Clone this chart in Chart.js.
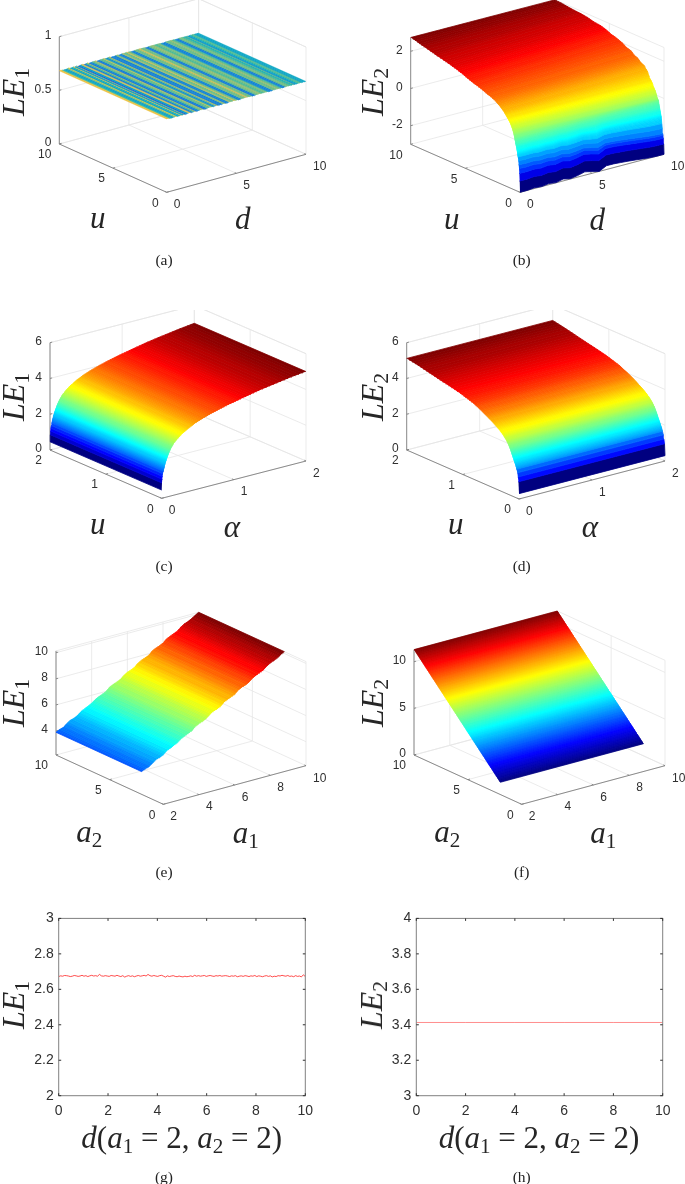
<!DOCTYPE html>
<html>
<head>
<meta charset="utf-8">
<script src="https://cdn.jsdelivr.net/npm/chart.js@4/dist/chart.umd.js"></script>
<style>
  html, body { margin: 0; background: #fff; }
  #page { position: relative; width: 685px; height: 1184px; overflow: hidden; }
  canvas { position: absolute; }
  .lbl { position: absolute; transform: translate(-50%, -50%); white-space: nowrap; color: #262626;
         font-family: "Liberation Serif", serif; font-size: 31px; line-height: 1; }
  .lbl.rot { transform: translate(-50%, -50%) rotate(-90deg); font-size: 32px; }
  .lbl.cap { font-size: 15.5px; color: #222; }
  .lbl i { font-style: italic; }
  .lbl span { font-size: 0.68em; position: relative; top: 0.25em; }
</style>
</head>
<body>
<div id="page"></div>
<script>
// (a) LE1 over d, one value per stripe
const leA = [.6828,.6828,.6800,.6788,.6784,.6808,.6836,.6784,.6792,.6828,.6784,.6816,.6764,.6784,.6824,.6820,.6772,.6800,.6828,.6772,.6776,.6804,.6808,.6824,.6772,.6772,.6804,.6804,.6824,.6800,.6776,.6804,.6824,.6772,.6776,.6772,.6808,.6812,.6772,.6776,.6816,.6808,.6804,.6824,.6808,.6804,.6772,.6776,.6808,.6804,.6812,.6824,.6808,.6804,.6808,.6772,.6772,.6804,.6808,.6812,.6808,.6800,.6804,.6808,.6804,.6780,.6772,.6776,.6808,.6804,.6808,.6812,.6804,.6800,.6776,.6772,.6804,.6808,.6804,.6800,.6792,.6804,.6780,.6788,.6800,.6804,.6792,.6784,.6788,.6784];

// (b) LE2 over u, along the d = 0 and d = 10 edges, with the ripple along d near u = 0
const uB = [0,.03,.06,.09,.12,.16,.2,.25,.3,.36,.43,.5,.6,.7,.8,.95,1.1,1.3,1.5,1.8,2.1,2.4,2.7,3,3.4,3.8,4.3,4.8,5.3,5.8,6.4,7,7.6,8.2,8.8,9.4,10];
const leB0 = [-3,-2.4,-2,-1.75,-1.55,-1.35,-1.15,-.97,-.8,-.63,-.45,-.25,.02,.2,.35,.52,.65,.8,.95,1.12,1.25,1.36,1.44,1.5,1.6,1.68,1.77,1.88,2,2.1,2.2,2.29,2.37,2.47,2.55,2.65,2.74];
const leB10 = [-3,-2.45,-2.15,-2,-1.91,-1.65,-1.4,-1.05,-.9,-.72,-.5,-.25,-.15,.05,.22,.38,.6,.75,1.05,1.3,1.38,1.55,1.62,1.78,1.85,2,2.12,2.2,2.33,2.42,2.46,2.55,2.6,2.62,2.66,2.7,2.72];
const dB = [0,.5,1,1.5,2,2.5,3,3.5,4,4.5,5,5.5,6,6.5,7,7.5,8,8.5,9,9.5,10];
const rippleB = [0,0,.04,0,.06,.01,.1,.02,.08,.18,.1,0,.2,.2,.17,.14,.1,.06,.02,0,0];
const rippleFadeB = [1,1,1,.9,.8,.7,.6,.5,.4,.3,.2,.1];

// (c) LE1 over alpha
const alphaC = [0,.004,.008,.012,.018,.025,.035,.05,.07,.1,.13,.17,.22,.28,.37,.46,.57,.69,.8,.93,1.06,1.2,1.35,1.5,1.65,1.8,1.9,2];
const leC = [.46,.85,1.05,1.2,1.35,1.48,1.65,1.88,2.12,2.42,2.66,2.9,3.1,3.3,3.52,3.7,3.87,4.02,4.14,4.27,4.38,4.5,4.62,4.72,4.81,4.9,4.95,5];

// (d) LE2 over u
const uD = [0,.01,.02,.03,.045,.06,.08,.1,.12,.15,.19,.23,.28,.34,.4,.48,.56,.65,.73,.81,.92,1.05,1.2,1.41,1.6,1.8,2];
const leD = [.3,.95,1.2,1.42,1.6,1.78,1.93,2.1,2.25,2.5,2.78,2.98,3.17,3.35,3.49,3.66,3.82,3.98,4.1,4.23,4.34,4.47,4.58,4.72,4.86,5,5.12];

// (e) LE1 over a1
const a1E = [2,2.2,2.4,2.6,2.8,3,3.2,3.4,3.6,3.8,4,4.2,4.4,4.6,4.8,5,5.2,5.4,5.6,5.8,6,6.2,6.4,6.6,6.8,7,7.2,7.4,7.6,7.8,8,8.2,8.4,8.6,8.8,9,9.2,9.4,9.6,9.8,10];
const leE = [3.9,4.04,4.12,4.33,4.52,4.6,4.74,4.98,5.1,5.24,5.38,5.6,5.74,5.86,5.98,6.24,6.38,6.48,6.62,6.85,7.02,7.12,7.25,7.5,7.65,7.76,7.88,8.14,8.28,8.38,8.52,8.76,8.9,9.02,9.14,9.38,9.55,9.66,9.8,9.98,10.14];

// (f) LE2 over a2
const a2F = [2,2.2,2.4,2.6,2.8,3,3.2,3.4,3.6,3.8,4,4.2,4.4,4.6,4.8,5,5.2,5.4,5.6,5.8,6,6.2,6.4,6.6,6.8,7,7.2,7.4,7.6,7.8,8,8.2,8.4,8.6,8.8,9,9.2,9.4,9.6,9.8,10];
const leF = [1.3,1.55,1.8,2.05,2.3,2.55,2.8,3.05,3.3,3.55,3.8,4.05,4.3,4.55,4.8,5.05,5.3,5.55,5.8,6.05,6.3,6.55,6.8,7.05,7.3,7.55,7.8,8.05,8.3,8.55,8.8,9.05,9.3,9.55,9.8,10.05,10.3,10.55,10.8,11.05,11.3];

// (g), (h) line plots
const leG = [2.672,2.676,2.674,2.678,2.677,2.675,2.672,2.674,2.678,2.676,2.673,2.675,2.679,2.674,2.677,2.672,2.676,2.679,2.675,2.677,2.674,2.684,2.676,2.674,2.677,2.675,2.673,2.678,2.676,2.674,2.679,2.675,2.672,2.677,2.669,2.674,2.677,2.673,2.676,2.671,2.675,2.678,2.674,2.676,2.679,2.675,2.684,2.677,2.674,2.678,2.675,2.673,2.677,2.679,2.674,2.669,2.676,2.672,2.675,2.677,2.673,2.671,2.675,2.672,2.670,2.674,2.671,2.673,2.676,2.672,2.679,2.674,2.677,2.674,2.676,2.678,2.673,2.676,2.678,2.675,2.673,2.677,2.675,2.678,2.674,2.676,2.677,2.675,2.672,2.676,2.674,2.677,2.671,2.674,2.676,2.673,2.677,2.675,2.672,2.676,2.674,2.678,2.672,2.676,2.674,2.671,2.675,2.677,2.673,2.676,2.670,2.674,2.672,2.677,2.675,2.679,2.676,2.674,2.678,2.673,2.675,2.671,2.677,2.673,2.675,2.670,2.682,2.672];
const dH = [0,2,4,6,8,10];
const leH = [3.413,3.413,3.413,3.413,3.413,3.413];

// tick labels
const ticksTen = [0,5,10];
const ticksTwo = [0,1,2];
const ticksA1 = [2,4,6,8,10];
const zTicksA = [0,.5,1];
const zTicksB = [-2,0,2];
const zTicksCD = [0,2,4,6];
const zTicksE = [4,6,8,10];
const zTicksF = [0,5,10];
const xTicks2d = [0,2,4,6,8,10];
const yTicksG = [2,2.2,2.4,2.6,2.8,3];
const yTicksH = [3,3.2,3.4,3.6,3.8,4];

const GRID = '#e6e6e6';
const AXIS = '#808080';
const INK = '#303030';
const TICK_FONT = '"Liberation Sans", sans-serif';

const clamp01 = v => Math.max(0, Math.min(1, v));
const toRgb = c => `rgb(${c.map(v => Math.round(v * 255)).join(',')})`;

function jet(t, levels) {
  const q = Math.min(levels - 1, Math.floor(clamp01(t) * levels)) / (levels - 1);
  return toRgb([
    clamp01(1.5 - Math.abs(4 * q - 3)),
    clamp01(1.5 - Math.abs(4 * q - 2)),
    clamp01(1.5 - Math.abs(4 * q - 1))
  ]);
}

const PARULA = [[.208,.165,.529],[.059,.361,.867],[.078,.506,.839],[.024,.643,.792],[.18,.718,.643],[.529,.749,.467],[.82,.733,.349],[.996,.784,.196],[.976,.984,.055]];
function parula(t) {
  const p = clamp01(t) * (PARULA.length - 1);
  const i = Math.min(PARULA.length - 2, Math.floor(p));
  return toRgb(PARULA[i].map((v, k) => v + (PARULA[i + 1][k] - v) * (p - i)));
}

// orthographic view of a MATLAB style box, anchored on its page position
function project(box, x, y, z) {
  const tx = (x - box.xlim[0]) / (box.xlim[1] - box.xlim[0]);
  const ty = (y - box.ylim[0]) / (box.ylim[1] - box.ylim[0]);
  const tz = (z - box.zlim[0]) / (box.zlim[1] - box.zlim[0]);
  return {
    x: box.o[0] + tx * (box.xEnd[0] - box.o[0]) + ty * (box.yEnd[0] - box.o[0]),
    y: box.o[1] + tx * (box.xEnd[1] - box.o[1]) + ty * (box.yEnd[1] - box.o[1]) - tz * box.zSpan
  };
}

function lineDs(data, color, width) {
  return { data, showLine: true, pointRadius: 0, borderColor: color, borderWidth: width, fill: false, tension: 0 };
}

function polyDs(data, color, width) {
  return { data, showLine: true, pointRadius: 0, borderColor: color, backgroundColor: color, borderWidth: width, fill: 'shape', tension: 0 };
}

function frameBack(box) {
  const out = [];
  const [x0, x1] = box.xlim, [y0, y1] = box.ylim, [z0, z1] = box.zlim;
  const seg = (a, b) => out.push(lineDs([project(box, ...a), project(box, ...b)], GRID, 0.8));
  box.xTicks.forEach(x => { seg([x, y0, z0], [x, y1, z0]); seg([x, y1, z0], [x, y1, z1]); });
  box.yTicks.forEach(y => { seg([x0, y, z0], [x1, y, z0]); seg([x1, y, z0], [x1, y, z1]); });
  box.zTicks.concat([z1]).forEach(z => { seg([x0, y1, z], [x1, y1, z]); seg([x1, y1, z], [x1, y0, z]); });
  return out;
}

function frameAxes(box) {
  const out = [];
  const [x0, x1] = box.xlim, [y0, y1] = box.ylim, [z0, z1] = box.zlim;
  const seg = (a, b) => out.push(lineDs([project(box, ...a), project(box, ...b)], AXIS, 0.9));
  seg([x0, y0, z0], [x1, y0, z0]);
  seg([x0, y0, z0], [x0, y1, z0]);
  seg([x0, y1, z0], [x0, y1, z1]);
  const dx = (x1 - x0) * 0.015, dy = (y1 - y0) * 0.015;
  box.xTicks.forEach(x => seg([x, y0, z0], [x, y0 + dy, z0]));
  box.yTicks.forEach(y => seg([x0, y, z0], [x0 + dx, y, z0]));
  box.zTicks.forEach(z => seg([x0, y1, z], [x0 + dx, y1, z]));
  return out;
}

// strips between neighbouring profile rows; above s.bandBelow a strip is split so the colours run smoothly
function strips(box, s) {
  const out = [];
  const point = (p, a, z) => (s.axis === 'x' ? project(box, p, a, z) : project(box, a, p, z));
  const along = s.along;
  const row = (i) => along.map((a, j) => {
    const f = (a - along[0]) / (along[along.length - 1] - along[0]);
    const ripple = s.ripple ? s.ripple[j] * (s.fade[i] || 0) : 0;
    return point(s.profile[i], a, s.z0[i] + (s.z1[i] - s.z0[i]) * f + ripple);
  });
  const norm = z => (z - s.clim[0]) / (s.clim[1] - s.clim[0]);
  const mix = (a, b, f) => a.map((p, j) => ({ x: p.x + (b[j].x - p.x) * f, y: p.y + (b[j].y - p.y) * f }));
  for (let i = 0; i < s.profile.length - 1; i++) {
    const t0 = norm(s.z0[i]), t1 = norm(s.z0[i + 1]);
    const lo = row(i), hi = row(i + 1);
    const parts = t0 < s.bandBelow ? 1 : Math.min(10, Math.max(1, Math.ceil((t1 - t0) * 128)));
    for (let k = 0; k < parts; k++) {
      const poly = mix(lo, hi, k / parts).concat(mix(lo, hi, (k + 1) / parts).reverse());
      out.push(polyDs(poly, s.map(t0 + (t1 - t0) * k / parts), s.seam));
    }
  }
  return out;
}

const labelPlugin = {
  id: 'boxLabels',
  afterDraw(chart, args, opts) {
    const box = opts.box;
    if (!box) return;
    const { ctx, scales } = chart;
    const put = (p, text, dx, dy, align) => {
      ctx.textAlign = align;
      ctx.fillText(text, scales.x.getPixelForValue(p.x) + dx, scales.y.getPixelForValue(p.y) + dy);
    };
    ctx.save();
    ctx.font = `12px ${TICK_FONT}`;
    ctx.fillStyle = INK;
    ctx.textBaseline = 'middle';
    box.xTicks.forEach(x => put(project(box, x, box.ylim[0], box.zlim[0]), String(x), 7, 12.5, 'left'));
    box.yTicks.forEach(y => put(project(box, box.xlim[0], y, box.zlim[0]), String(y), -8, 11, 'right'));
    box.zTicks.forEach(z => put(project(box, box.xlim[0], box.ylim[1], z), String(z), -8, -1, 'right'));
    ctx.restore();
  }
};

const framePlugin = {
  id: 'insideTicks',
  afterDraw(chart) {
    if (chart.options.plugins.boxLabels.box) return;
    const { ctx, chartArea: a, scales } = chart;
    ctx.save();
    ctx.strokeStyle = AXIS;
    ctx.lineWidth = 1;
    ctx.strokeRect(a.left, a.top, a.right - a.left, a.bottom - a.top);
    ctx.strokeStyle = INK;
    ctx.beginPath();
    scales.x.ticks.forEach(t => {
      const px = scales.x.getPixelForValue(t.value);
      ctx.moveTo(px, a.bottom); ctx.lineTo(px, a.bottom - 2.5);
      ctx.moveTo(px, a.top); ctx.lineTo(px, a.top + 2.5);
    });
    scales.y.ticks.forEach(t => {
      const py = scales.y.getPixelForValue(t.value);
      ctx.moveTo(a.left, py); ctx.lineTo(a.left + 2.5, py);
      ctx.moveTo(a.right, py); ctx.lineTo(a.right - 2.5, py);
    });
    ctx.stroke();
    ctx.restore();
  }
};

Chart.register(labelPlugin, framePlugin);

const page = document.getElementById('page');

function addCanvas(left, top, w, h) {
  const c = document.createElement('canvas');
  c.width = w; c.height = h;
  c.style.left = left + 'px'; c.style.top = top + 'px';
  c.style.width = w + 'px'; c.style.height = h + 'px';
  page.appendChild(c);
  return c;
}

function label(x, y, html, cls) {
  const d = document.createElement('div');
  d.className = 'lbl ' + (cls || '');
  d.style.left = x + 'px'; d.style.top = y + 'px';
  d.innerHTML = html;
  page.appendChild(d);
}

function draw3d(rect, box, surface) {
  const [left, top, w, h] = rect;
  // paint order: first entry at the back, Chart.js draws lower order on top
  const layers = [...frameBack(box), ...frameAxes(box), ...strips(box, surface)];
  layers.forEach((d, i) => { d.order = layers.length - i; });
  new Chart(addCanvas(left, top, w, h), {
    type: 'scatter',
    data: { datasets: layers },
    options: {
      responsive: false,
      animation: false,
      devicePixelRatio: 1,
      events: [],
      layout: { padding: 0 },
      plugins: { legend: { display: false }, tooltip: { enabled: false }, boxLabels: { box } },
      scales: {
        x: { type: 'linear', display: false, min: left, max: left + w },
        y: { type: 'linear', display: false, min: top, max: top + h, reverse: true }
      }
    }
  });
}

function draw2d(rect, plot, xValues, yValues, yTicks, lineWidth, color) {
  const [left, top, w, h] = rect;
  new Chart(addCanvas(left, top, w, h), {
    type: 'scatter',
    data: { datasets: [lineDs(yValues.map((v, i) => ({ x: xValues[i], y: v })), color, lineWidth)] },
    options: {
      responsive: false,
      animation: false,
      devicePixelRatio: 1,
      events: [],
      layout: { padding: { top: plot.top - top, right: left + w - plot.right } },
      plugins: { legend: { display: false }, tooltip: { enabled: false } },
      scales: {
        x: {
          type: 'linear', min: xTicks2d[0], max: xTicks2d[xTicks2d.length - 1],
          afterBuildTicks: s => { s.ticks = xTicks2d.map(value => ({ value })); },
          afterFit: s => { s.height = top + h - plot.bottom; },
          grid: { display: false, drawTicks: false }, border: { display: false },
          ticks: { color: INK, font: { family: TICK_FONT, size: 14 }, maxRotation: 0, padding: 7, autoSkip: false }
        },
        y: {
          type: 'linear', min: yTicks[0], max: yTicks[yTicks.length - 1],
          afterBuildTicks: s => { s.ticks = yTicks.map(value => ({ value })); },
          afterFit: s => { s.width = plot.left - left; },
          grid: { display: false, drawTicks: false }, border: { display: false },
          ticks: { color: INK, font: { family: TICK_FONT, size: 14 }, padding: 5, autoSkip: false, callback: v => String(+v.toFixed(1)) }
        }
      }
    }
  });
}

const seam = 0.8;
const jetFine = t => jet(t, 128);

draw3d([0, 0, 340, 235],
  { o: [166.7, 192.3], xEnd: [306, 154.3], yEnd: [59.3, 144], zSpan: 107.3, xlim: [0, 10], ylim: [0, 10], zlim: [0, 1], xTicks: ticksTen, yTicks: ticksTen, zTicks: zTicksA },
  { axis: 'x', profile: leA.map((_, i) => 10 * i / (leA.length - 1)), along: [0, 10], z0: leA, z1: leA, clim: [.675, .6845], map: parula, seam: 0.5, bandBelow: 2 });

draw3d([340, 0, 345, 235],
  { o: [520, 192.3], xEnd: [664, 154.3], yEnd: [410.7, 144.3], zSpan: 106.8, xlim: [0, 10], ylim: [0, 10], zlim: [-3, 2.74], xTicks: ticksTen, yTicks: ticksTen, zTicks: zTicksB },
  { axis: 'y', profile: uB, along: dB, z0: leB0, z1: leB10, ripple: rippleB, fade: rippleFadeB, clim: [-3, 2.74], map: jetFine, seam, bandBelow: .3 });

draw3d([0, 310, 340, 230],
  { o: [161.7, 498.3], xEnd: [306, 461], yEnd: [50, 450], zSpan: 107.3, xlim: [0, 2], ylim: [0, 2], zlim: [0, 6], xTicks: ticksTwo, yTicks: ticksTwo, zTicks: zTicksCD },
  { axis: 'x', profile: alphaC, along: [0, 2], z0: leC, z1: leC, clim: [.46, 5], map: jetFine, seam, bandBelow: .2 });

draw3d([340, 310, 345, 230],
  { o: [519, 499], xEnd: [665, 461], yEnd: [406.7, 450], zSpan: 107.3, xlim: [0, 2], ylim: [0, 2], zlim: [0, 6], xTicks: ticksTwo, yTicks: ticksTwo, zTicks: zTicksCD },
  { axis: 'y', profile: uD, along: [0, 2], z0: leD, z1: leD, clim: [.3, 5.12], map: jetFine, seam, bandBelow: .25 });

draw3d([0, 600, 340, 245],
  { o: [163.3, 804.3], xEnd: [306, 765.7], yEnd: [56, 755], zSpan: 104.1, xlim: [2, 10], ylim: [0, 10], zlim: [2.16, 10.14], xTicks: ticksA1, yTicks: ticksTen, zTicks: zTicksE },
  { axis: 'x', profile: a1E, along: [2, 10], z0: leE, z1: leE, clim: [2.16, 10.14], map: t => jet(t, 64), seam, bandBelow: 0 });

draw3d([340, 600, 345, 245],
  { o: [521.7, 804.3], xEnd: [665, 765.7], yEnd: [414, 755], zSpan: 105.4, xlim: [2, 10], ylim: [0, 10], zlim: [0, 11.3], xTicks: ticksA1, yTicks: ticksTen, zTicks: zTicksF },
  { axis: 'y', profile: a2F, along: [2, 10], z0: leF, z1: leF, clim: [1.3, 11.3], map: t => jet(t, 256), seam, bandBelow: 0 });

draw2d([0, 905, 340, 225], { left: 58.7, right: 305.3, top: 918.3, bottom: 1095.7 }, leG.map((_, i) => 10 * i / (leG.length - 1)), leG, yTicksG, 1, 'rgba(255,0,0,0.7)');
draw2d([340, 905, 345, 225], { left: 416.3, right: 662.7, top: 918.3, bottom: 1095.7 }, dH, leH, yTicksH, 1, 'rgba(255,0,0,0.45)');

const LE1 = '<i>LE</i><span>1</span>';
const LE2 = '<i>LE</i><span>2</span>';
const A1 = '<i>a</i><span>1</span>';
const A2 = '<i>a</i><span>2</span>';
const DLABEL = '<i>d</i>(<i>a</i><span>1</span> = 2, <i>a</i><span>2</span> = 2)';

label(13.3, 91.7, LE1, 'rot'); label(97.7, 217, '<i>u</i>'); label(242.7, 218, '<i>d</i>'); label(164, 260, '(a)', 'cap');
label(371.7, 91.7, LE2, 'rot'); label(451.7, 218, '<i>u</i>'); label(597.3, 219, '<i>d</i>'); label(521.7, 260, '(b)', 'cap');
label(13.3, 396.7, LE1, 'rot'); label(97.7, 523, '<i>u</i>'); label(232, 526, '<i>α</i>'); label(164, 566, '(c)', 'cap');
label(371.7, 396.7, LE2, 'rot'); label(455.7, 523, '<i>u</i>'); label(590, 526, '<i>α</i>'); label(521.7, 566, '(d)', 'cap');
label(13.3, 703, LE1, 'rot'); label(89.3, 831, A2); label(245.7, 832, A1); label(164, 871.7, '(e)', 'cap');
label(371.7, 703, LE2, 'rot'); label(447.3, 831, A2); label(603.3, 832, A1); label(521.7, 871.7, '(f)', 'cap');
label(13.3, 1005, LE1, 'rot'); label(181.7, 1137, DLABEL); label(164, 1176.7, '(g)', 'cap');
label(370.7, 1005, LE2, 'rot'); label(539, 1137, DLABEL); label(521.7, 1176.7, '(h)', 'cap');
</script>
</body>
</html>
